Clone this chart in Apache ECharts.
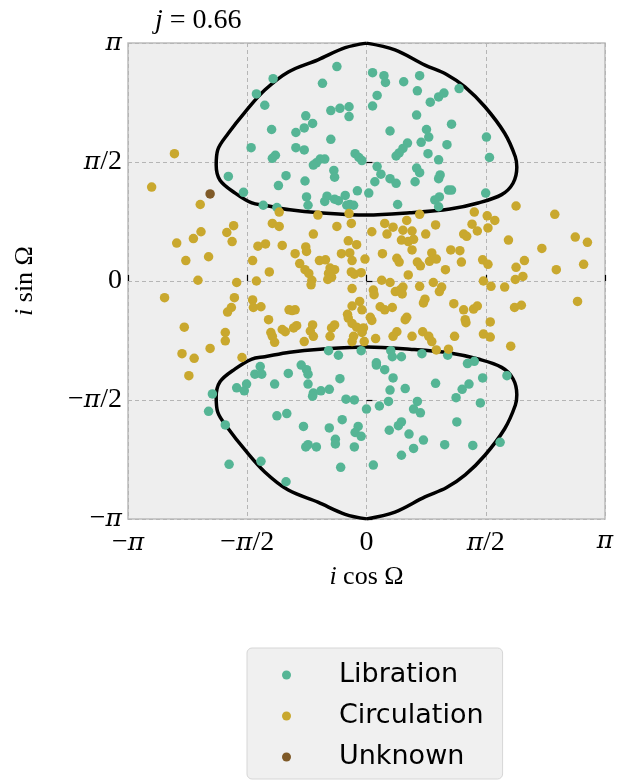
<!DOCTYPE html>
<html>
<head>
<meta charset="utf-8">
<script src="https://cdn.jsdelivr.net/npm/echarts@6/dist/echarts.min.js"></script>
<style>html,body{margin:0;padding:0;background:#fff;}#c{width:632px;height:780px;}</style>
</head>
<body>
<div id="c"></div>
<script>
const PI = Math.PI;
const tickLabels = ['−{p|π}', '−{p|π}/2', '0', '{p|π}/2', '{p|π}'];
const seriesNames = ['Libration', 'Circulation', 'Unknown'];

const libration = [
[-1.23,2.67],[-1.45,2.47],[-1.34,2.32],[-1.25,2.00],[-1.52,1.76],[-1.20,1.66],[-1.24,1.62],[-1.82,1.38],[-1.06,1.39],[-1.16,1.26],[-1.62,1.17],[-1.36,1.00],[-1.18,0.97],
[-0.39,2.83],[-0.58,2.61],[0.08,2.75],[0.23,2.71],[0.25,2.62],[0.49,2.63],[0.70,2.71],[0.67,2.51],[0.14,2.45],[0.08,2.31],[0.84,2.36],[0.95,2.43],[1.02,2.48],
[-0.47,2.25],[-0.35,2.28],[-0.23,2.30],[-0.23,2.17],[-0.80,2.18],[-0.71,2.08],[-0.82,2.02],[-0.93,1.96],[-0.47,1.87],[0.31,1.98],[0.66,2.19],[0.79,2.00],[0.82,1.90],[0.72,1.83],[0.54,1.82],[0.48,1.75],[0.43,1.69],[0.39,1.65],[1.06,1.80],
[-0.93,1.76],[-0.82,1.73],[-0.15,1.68],[-0.10,1.63],[-0.06,1.59],[-0.61,1.61],[-0.55,1.61],[-0.66,1.56],[-0.70,1.53],[0.81,1.68],[0.95,1.60],[0.14,1.51],[0.19,1.41],[0.31,1.35],[0.39,1.29],[0.11,1.31],[0.66,1.49],[0.70,1.43],[0.64,1.31],[0.97,1.40],[0.95,1.35],
[-0.81,1.32],[-0.43,1.46],[-0.42,1.37],[-0.12,1.19],[0.03,1.16],[-0.28,1.13],[-0.52,1.12],[-0.42,1.08],[-0.37,1.06],[-0.79,1.11],[-0.77,1.00],[-0.22,1.01],[-0.17,1.00],[0.41,1.01],[0.96,1.11],[0.90,1.07],[1.08,1.20],
[1.22,2.54],[1.12,2.07],[1.58,1.90],[1.62,1.63],[1.12,1.20],[1.57,1.16],[-0.55,1.05],[-0.26,1.00],[0.95,0.98],
[-1.40,-1.13],[-1.47,-1.23],[-1.38,-1.23],[-1.03,-1.22],[-1.71,-1.41],[-1.58,-1.36],[-1.61,-1.45],[-1.21,-1.36],[-2.03,-1.49],[-2.08,-1.72],[-1.86,-1.90],[-1.18,-1.78],[-1.05,-1.75],[-1.39,-2.38],[-1.81,-2.42],[-1.06,-2.65],
[-0.86,-1.11],[-0.79,-1.17],[-0.77,-1.23],[-0.77,-1.36],[-0.35,-1.29],[0.13,-1.11],[0.24,-1.17],[0.35,-1.28],[0.91,-1.35],[0.31,-1.44],[0.51,-1.42],[-0.70,-1.48],[-0.71,-1.52],[-0.60,-1.45],[-0.49,-1.43],[-0.27,-1.56],[-0.16,-1.57],[0.00,-1.69],[0.17,-1.65],[0.29,-1.59],[0.67,-1.59],[0.62,-1.69],[0.71,-1.74],
[-0.83,-1.92],[-0.49,-1.94],[-0.32,-1.83],[-0.11,-1.92],[-0.15,-2.00],[-0.07,-2.05],[0.30,-1.97],[0.42,-1.91],[0.46,-1.86],[0.56,-2.02],[0.75,-2.10],[-0.41,-2.09],[-0.41,-2.15],[-0.77,-2.16],[-0.80,-2.19],[-0.66,-2.19],[-0.16,-2.19],[0.62,-2.21],[0.46,-2.30],[1.03,-2.16],[-0.34,-2.46],[0.09,-2.43],
[-0.50,-0.92],[-0.07,-0.92],[0.32,-0.92],[0.46,-1.00],[0.34,-1.00],[0.73,-0.96],[0.13,-1.08],[-0.37,-0.98],[1.07,-0.98],
[1.33,-1.09],[1.42,-1.06],[1.85,-1.25],[1.53,-1.28],[1.35,-1.36],[1.26,-1.43],[1.18,-1.54],[1.50,-1.61],[1.19,-1.86],[1.40,-2.17],[1.76,-2.13]
];

const circulation = [
[-2.53,1.68],[-2.83,1.24],[-2.19,1.01],
[-1.75,0.73],[-1.84,0.64],[-2.18,0.65],[-2.28,0.56],[-2.50,0.50],[-1.77,0.52],[-2.38,0.27],[-2.08,0.32],[-1.24,0.76],[-1.15,0.72],[-1.15,0.91],[-1.43,0.46],[-1.33,0.49],[-1.11,0.47],[-1.50,0.27],[-1.28,0.12],[-2.22,0.01],[-1.71,-0.02],[-1.45,0.00],[-2.66,-0.22],[-1.74,-0.22],[-1.50,-0.25],[-1.49,-0.35],[-1.39,-0.34],[-1.78,-0.35],[-1.83,-0.41],[-1.02,-0.38],[-1.29,-0.51],[-2.40,-0.61],[-1.86,-0.68],[-1.86,-0.79],[-1.26,-0.68],[-1.24,-0.73],[-1.11,-0.64],[-1.21,-0.81],[-2.06,-0.89],[-2.43,-0.96],[-2.27,-1.02],[-1.64,-1.01],[-2.34,-1.25],
[-0.64,0.87],[-0.23,0.89],[-0.39,0.72],[-0.20,0.76],[-0.70,0.62],[0.07,0.65],[0.27,0.62],[0.24,0.76],[0.35,0.71],[0.53,0.80],[0.48,0.67],[0.60,0.66],[0.70,0.88],[0.91,0.74],[0.78,0.62],[0.46,0.54],[0.55,0.52],[0.62,0.55],[0.60,0.41],[-0.24,0.53],[-0.13,0.48],[-0.80,0.45],[-0.79,0.39],[-0.94,0.36],[-0.33,0.36],[-0.22,0.37],[-0.19,0.27],[-0.02,0.29],[0.21,0.36],[0.40,0.30],[0.43,0.25],[0.67,0.25],[0.71,0.20],[0.86,0.37],[0.83,0.26],[0.92,0.29],[1.04,0.15],[-0.62,0.27],[-0.54,0.28],[-0.88,0.23],[-0.81,0.15],[-0.76,0.10],[-0.48,0.17],[-0.42,0.15],[-0.50,0.10],[-0.46,0.05],[-0.51,0.02],[-0.20,0.12],[-0.16,0.09],[-0.07,0.11],[0.55,0.08],[-0.72,0.01],[-0.73,-0.05],[0.20,0.01],[0.31,-0.02],[-0.19,-0.10],[0.09,-0.12],[0.10,-0.18],[0.38,-0.14],[0.44,-0.12],[0.48,-0.08],[0.47,-0.17],[0.70,-0.07],[0.88,-0.02],[0.99,-0.08],[0.96,-0.14],[0.77,-0.24],[0.75,-0.29],[-0.09,-0.27],[-0.19,-0.33],[-0.06,-0.38],[0.18,-0.34],[0.24,-0.38],[0.34,-0.35],[0.53,-0.48],[0.51,-0.51],[-0.94,-0.38],[-0.98,-0.39],[-0.25,-0.44],[-0.24,-0.49],[-0.19,-0.56],[0.05,-0.48],[0.07,-0.52],[-0.92,-0.59],[-0.96,-0.62],[-0.71,-0.58],[-0.74,-0.66],[-0.70,-0.73],[-0.46,-0.62],[-0.42,-0.58],[-0.48,-0.73],[-0.13,-0.61],[-0.04,-0.62],[-0.06,-0.68],[-0.17,-0.73],[-0.19,-0.80],[-0.03,-0.80],[0.12,-0.76],[0.40,-0.67],[0.35,-0.73],[0.60,-0.73],[0.74,-0.67],[0.82,-0.73],[0.86,-0.80],[0.92,-0.91],[-0.82,-0.80],[-1.07,-0.67],
[1.97,0.99],[2.48,0.88],[1.42,0.91],[1.59,0.86],[1.69,0.80],[1.39,0.75],[1.46,0.66],[1.60,0.70],[1.28,0.62],[1.32,0.59],[1.87,0.54],[2.75,0.58],[2.91,0.51],[2.31,0.43],[1.11,0.41],[1.23,0.40],[1.25,0.25],[1.53,0.28],[1.60,0.22],[2.08,0.27],[1.97,0.18],[2.50,0.15],[2.86,0.22],[1.54,0.00],[1.64,-0.07],[1.82,-0.08],[1.96,0.02],[2.06,0.06],[2.78,-0.27],[1.15,-0.30],[1.28,-0.38],[1.41,-0.37],[1.46,-0.33],[1.95,-0.35],[2.04,-0.32],[1.30,-0.51],[1.31,-0.55],[1.63,-0.54],[1.16,-0.73],[1.54,-0.70],[1.63,-0.74],[1.90,-0.86],[1.08,-0.90]
];

const unknown = [[-2.06,1.15]];

const upperLobe = [[0,3.14],[0.375,3.05],[0.77,2.85],[1.05,2.73],[1.30,2.56],[1.56,2.30],[1.82,1.95],[1.96,1.64],[1.98,1.50],[1.93,1.29],[1.78,1.14],[1.47,1.03],[1.10,0.95],[0.57,0.90],[0,0.87],[-0.61,0.90],[-1.01,0.94],[-1.34,1.00],[-1.51,1.03],[-1.73,1.16],[-1.93,1.33],[-1.98,1.53],[-1.96,1.73],[-1.82,1.95],[-1.60,2.23],[-1.34,2.52],[-1.03,2.76],[-0.64,2.92],[-0.28,3.08],[0,3.14]];
const lowerLobe = [[0,-3.14],[0.375,-3.05],[0.77,-2.85],[1.05,-2.73],[1.30,-2.56],[1.56,-2.30],[1.82,-1.95],[1.96,-1.64],[1.98,-1.50],[1.93,-1.29],[1.78,-1.14],[1.47,-1.03],[1.10,-0.95],[0.57,-0.90],[0,-0.87],[-0.61,-0.90],[-1.01,-0.94],[-1.34,-1.00],[-1.51,-1.03],[-1.73,-1.16],[-1.93,-1.33],[-1.98,-1.53],[-1.96,-1.73],[-1.82,-1.95],[-1.60,-2.23],[-1.34,-2.52],[-1.03,-2.76],[-0.64,-2.92],[-0.28,-3.08],[0,-3.14]];

const colors = {Libration: '#55b595', Circulation: '#c9a82e', Unknown: '#7f5a28'};
const serif = "'Liberation Serif', 'DejaVu Serif', serif";
const labelFmt = v => tickLabels[Math.round(v / (PI / 2)) + 2];
const labelRich = {p: {fontFamily: "'DejaVu Serif', serif", fontStyle: 'italic', fontSize: 25, color: '#000'}};

const chart = echarts.init(document.getElementById('c'), null, {renderer: 'canvas'});

const axisCommon = {
  type: 'value', min: -PI, max: PI, interval: PI / 2,
  axisLine: {show: false},
  axisTick: {show: true, inside: true, length: 6, lineStyle: {color: '#000', width: 1.2}},
  splitLine: {show: true, lineStyle: {color: '#b5b5b5', width: 1, type: [4, 3]}},
  axisLabel: {formatter: labelFmt, fontFamily: serif, fontSize: 28, color: '#000', rich: labelRich},
  nameLocation: 'middle',
  nameTextStyle: {fontFamily: serif, fontSize: 26, color: '#000', rich: {i: {fontFamily: serif, fontStyle: 'italic', fontSize: 26}}}
};

const lineSeries = (data) => ({
  type: 'line', data: data, showSymbol: false, symbol: 'none', smooth: 0.35,
  lineStyle: {color: '#000', width: 3.5}, z: 1, silent: true, legendHoverLink: false
});

chart.setOption({
  animation: false,
  backgroundColor: '#ffffff',
  title: {
    text: '{i|j} = 0.66', left: 150, top: 2,
    textStyle: {fontFamily: serif, fontSize: 28, fontWeight: 'normal', color: '#000',
      rich: {i: {fontFamily: serif, fontStyle: 'italic', fontSize: 28}}}
  },
  grid: {left: 128, top: 43, width: 477, height: 476, show: true, backgroundColor: '#eeeeee', borderColor: '#bcbcbc', borderWidth: 1.5},
  xAxis: Object.assign({}, axisCommon, {
    name: '{i|i} cos Ω', nameGap: 45,
    axisLabel: Object.assign({}, axisCommon.axisLabel, {margin: 10})
  }),
  yAxis: Object.assign({}, axisCommon, {
    name: '{i|i} sin Ω', nameGap: 90, nameRotate: 90,
    axisLabel: Object.assign({}, axisCommon.axisLabel, {margin: 6})
  }),
  legend: {
    data: seriesNames.map(n => ({name: n, icon: 'circle'})),
    orient: 'vertical', left: 247, top: 648,
    itemWidth: 9, itemHeight: 9, itemGap: 13,
    padding: [13, 19, 8, 35],
    backgroundColor: '#f0f0f0', borderColor: '#d6d6d6', borderWidth: 1, borderRadius: 5,
    textStyle: {fontFamily: "'DejaVu Sans', sans-serif", fontSize: 27, color: '#000', lineHeight: 28, padding: [0, 0, 0, 43]}
  },
  series: [
    lineSeries(upperLobe),
    lineSeries(lowerLobe),
    {name: 'Libration', type: 'scatter', data: libration, symbolSize: 9.5, itemStyle: {color: colors.Libration, opacity: 1}, z: 3},
    {name: 'Circulation', type: 'scatter', data: circulation, symbolSize: 9.5, itemStyle: {color: colors.Circulation, opacity: 1}, z: 3},
    {name: 'Unknown', type: 'scatter', data: unknown, symbolSize: 9.5, itemStyle: {color: colors.Unknown, opacity: 1}, z: 3}
  ]
});
</script>
</body>
</html>
